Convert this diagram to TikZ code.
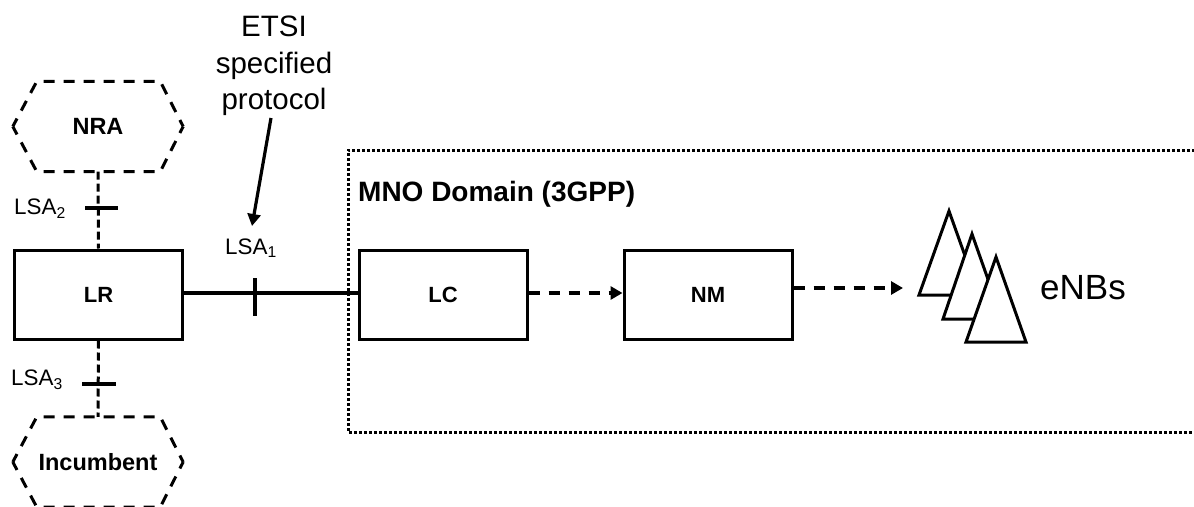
\documentclass[tikz,border=0pt]{standalone}
\usepackage{fontspec}
\setmainfont{Liberation Sans}
\usetikzlibrary{arrows.meta,calc}
\tikzset{
  boxnode/.style={draw=black,line width=3pt,minimum width=168pt,minimum height=89pt,inner sep=0pt,font=\fontsize{22}{26}\selectfont\bfseries,fill=white},
  hexlabel/.style={minimum width=170pt,minimum height=90pt,inner sep=0pt,font=\fontsize{23.5}{28}\selectfont\bfseries},
  hexline/.style={draw=black,line width=3pt,dash pattern=on 11pt off 9pt,dash phase=2pt},
  vdash/.style={draw=black,line width=3pt,dash pattern=on 8pt off 4pt},
  dashconn/.style={draw=black,line width=3.2pt,dash pattern=on 11.5pt off 8.5pt},
  solidconn/.style={draw=black,line width=3.2pt},
  tick/.style={draw=black,line width=3.2pt},
  arrowhd/.style={-{Triangle[length=12pt,width=13pt]}},
  lsa/.style={inner sep=0pt,font=\fontsize{22.4}{26}\selectfont},
  tri/.style={draw=black,fill=white,line width=3pt,line join=miter},
  big/.style={inner sep=0pt,font=\fontsize{29.5}{36.5}\selectfont,align=center},
}
\begin{document}
\begin{tikzpicture}[x=1pt,y=-1pt]
\useasboundingbox (0,0) rectangle (1194,506);
\clip (0,0) rectangle (1194,506);
% dotted domain
\node[anchor=west,inner sep=0pt,font=\fontsize{28}{32}\selectfont\bfseries] (mno) at (358,194) {MNO Domain (3GPP)};
\draw[black,line width=3pt,dash pattern=on 2.6pt off 2.4pt] (1200,150) -- (348,150) -- (348,432) -- (1200,432);
% hexagons
\node[hexlabel] (nra) at (98,126.5) {NRA};
\node[hexlabel] (inc) at (98,462) {Incumbent};
\foreach \h in {nra,inc}{
  \draw[hexline] (\h.west) -- ($(\h.north west)+(24,0)$) -- ($(\h.north east)+(-23,0)$) -- (\h.east);
  \draw[hexline] (\h.west) -- ($(\h.south west)+(24,0)$) -- ($(\h.south east)+(-23,0)$) -- (\h.east);
}
% boxes
\node[boxnode] (lr) at (98.5,294.5) {LR};
\node[boxnode] (lc) at (443,294.5) {LC};
\node[boxnode] (nm) at (708,294.5) {NM};
% LSA links
\draw[vdash] (nra.south) -- (lr.north);
\draw[vdash] (lr.south) -- (inc.north);
\draw[solidconn] (lr.east |- 0,293) coordinate (a1) -- (lc.west |- 0,293) coordinate (a2);
\coordinate (t2a) at (85,208); \coordinate (t2b) at (118,208);
\coordinate (t3a) at (82,384); \coordinate (t3b) at (116,384);
\coordinate (t1a) at (255,278); \coordinate (t1b) at (255,316);
\draw[tick] (t2a) -- (t2b);
\draw[tick] (t3a) -- (t3b);
\draw[tick] (t1a) -- (t1b);
\node[lsa,anchor=west] (l2) at (14,209) {LSA\textsubscript{2}};
\node[lsa,anchor=west] (l3) at (11,380) {LSA\textsubscript{3}};
\node[lsa,anchor=west] (l1) at (225,248) {LSA\textsubscript{1}};
% ETSI
\node[big] (etsi) at (274,66) {ETSI\\specified\\protocol};
\coordinate (es) at (271,118);
\coordinate (ee) at (252,226);
\draw[solidconn,arrowhd] (es) -- (ee);
% triangles
\coordinate (enb) at (903,288);
\draw[tri] (949,211) -- (979,295) -- (919,295) -- cycle;
\draw[tri] (972,234) -- (1002,319) -- (943,319) -- cycle;
\draw[tri] (996,257) -- (1026,342) -- (966,342) -- cycle;
\node[inner sep=0pt,font=\fontsize{35}{40}\selectfont] (enbs) at (1083,288) {eNBs};
% arrows
\draw[dashconn,arrowhd] (lc.east |- 0,293) -- (nm.west |- 0,293);
\draw[dashconn,arrowhd] (nm.east |- 0,288) -- (enb);
\end{tikzpicture}
\end{document}
